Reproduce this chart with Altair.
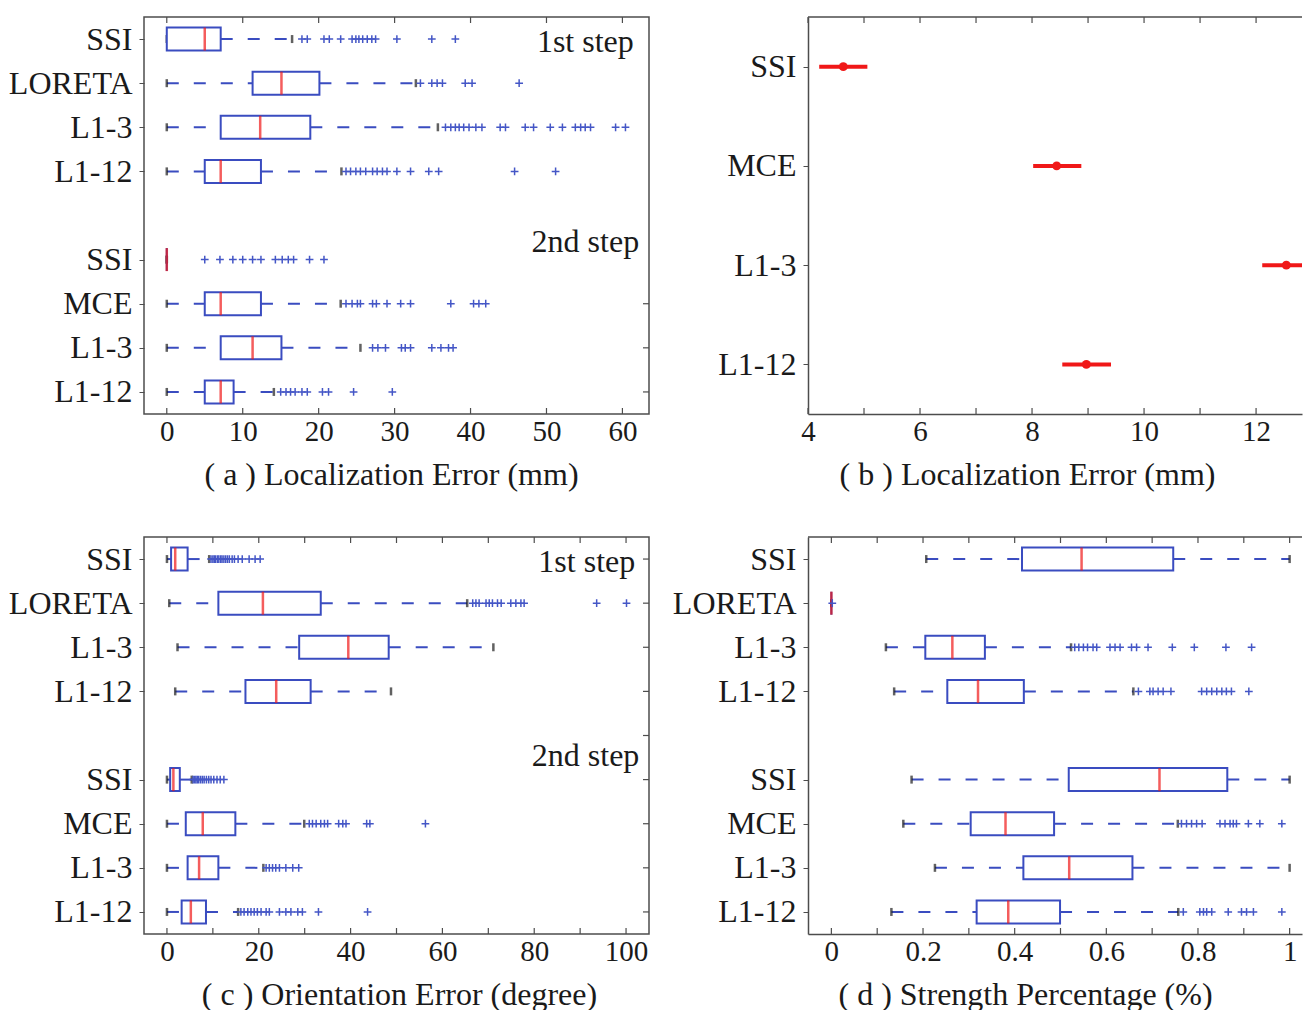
import json
import pandas as pd
import altair as alt

SERIF = "Liberation Serif"
BLUE = "#3a4cc0"
BLUE_PT = "#4456c6"
RED = "#f01818"
CAP = "#1e1e1e"
AXC = "#4d4d4d"
TXT = "#1a1a1a"

# ---------------- shared row layout for box panels ----------------
ROWS = [1, 2, 3, 4, 6, 7, 8, 9]
ROW_LABELS_AC = ["SSI", "LORETA", "L1-3", "L1-12", "SSI", "MCE", "L1-3", "L1-12"]
ROW_LABELS_D = ["SSI", "LORETA", "L1-3", "L1-12", "SSI", "MCE", "L1-3", "L1-12"]

# ---------------- (a) Localization Error (mm) ----------------
A_LO = [0, 0, 0, 0, 0, 0, 0, 0]
A_Q1 = [0, 11.3, 7.1, 5.0, 0, 5.0, 7.1, 5.0]
A_MED = [5.0, 15.1, 12.3, 7.1, 0, 7.1, 11.3, 7.1]
A_Q3 = [7.1, 20.1, 18.9, 12.4, 0, 12.4, 15.1, 8.8]
A_HI = [16.5, 32.8, 35.7, 23.0, 0, 22.9, 25.5, 14.1]
A_OUT = [
    [17.8, 18.5, 20.7, 21.4, 22.9, 24.4, 24.9, 25.3, 25.8, 26.4, 27.0, 27.5, 30.3, 34.9, 38.0],
    [33.4, 34.9, 35.6, 36.3, 39.3, 40.2, 46.4],
    [36.7, 37.4, 38.0, 38.5, 39.1, 39.8, 40.7, 41.5, 43.9, 44.6, 47.2, 48.3, 50.5, 52.1,
     53.8, 54.5, 55.1, 55.8, 59.1, 60.4],
    [23.6, 24.2, 24.9, 25.5, 26.2, 27.1, 27.7, 28.4, 29.0, 30.3, 32.1, 34.5, 35.8, 45.8, 51.2],
    [5.0, 7.0, 8.7, 10.0, 11.3, 12.4, 14.3, 15.2, 16.0, 16.7, 18.8, 20.7],
    [23.6, 24.4, 25.1, 25.5, 27.1, 27.6, 29.0, 30.8, 32.1, 37.4, 40.4, 41.1, 42.0],
    [27.1, 27.8, 28.8, 30.9, 31.4, 32.1, 34.9, 36.1, 37.1, 37.7],
    [15.0, 15.7, 16.3, 16.9, 17.8, 18.5, 20.5, 21.3, 24.6, 29.7],
]
A_DOMAIN = [-3, 63.5]
A_MAJOR = [0, 10, 20, 30, 40, 50, 60]
A_MINOR = [0, 10, 20, 30, 40, 50, 60]
A_TEXT = ["1st step", "2nd step"]
A_TEXT_X = [61.5, 62.2]
A_TEXT_Y = [1.30, 5.83]
A_RIGHT_TICKS = [7, 8, 9]

# ---------------- (b) mean localization error with CI ----------------
B_ROWS = [1, 2, 3, 4]
B_LABELS = ["SSI", "MCE", "L1-3", "L1-12"]
B_MEAN = [4.63, 8.44, 12.54, 8.97]
B_LO = [4.20, 8.02, 12.11, 8.54]
B_HI = [5.06, 8.88, 12.97, 9.41]
B_DOMAIN = [4, 12.82]
B_MAJOR = [4, 6, 8, 10, 12]
B_MINOR = [4, 5, 6, 7, 8, 9, 10, 11, 12]

# ---------------- (c) Orientation Error (degree) ----------------
C_LO = [0, 0.5, 2.3, 1.8, 0, 0, 0, 0]
C_Q1 = [0.9, 11.2, 28.8, 17.1, 0.7, 4.1, 4.5, 3.2]
C_MED = [1.8, 20.9, 39.5, 23.8, 1.4, 7.8, 7.0, 5.2]
C_Q3 = [4.5, 33.5, 48.3, 31.3, 2.8, 14.9, 11.2, 8.5]
C_HI = [9.2, 65.4, 71.1, 48.8, 5.4, 29.9, 21.0, 15.5]
C_OUT = [
    [9.6, 10.0, 10.3, 10.6, 11.0, 11.3, 11.7, 12.0, 12.4, 12.8, 13.2, 13.6, 14.2, 14.7,
     15.5, 16.4, 17.9, 19.2, 20.3],
    [66.6, 67.3, 68.0, 69.5, 70.2, 70.9, 72.0, 72.8, 74.9, 76.0, 77.1, 77.8, 93.6, 100.1],
    [],
    [],
    [5.7, 6.0, 6.3, 6.6, 6.9, 7.3, 7.7, 8.1, 8.6, 9.1, 9.6, 10.2, 10.9, 11.6, 12.4],
    [31.0, 31.7, 32.5, 33.5, 34.3, 35.0, 37.4, 38.3, 39.0, 43.5, 44.2, 56.3],
    [21.6, 22.3, 23.0, 23.7, 24.5, 25.9, 27.4, 28.7],
    [16.1, 16.8, 17.6, 18.3, 19.0, 19.7, 20.5, 21.6, 22.3, 24.5, 25.9, 27.0, 28.5, 29.5,
     33.0, 43.7],
]
C_DOMAIN = [-5, 105]
C_MAJOR = [0, 20, 40, 60, 80, 100]
C_MINOR = [0, 10, 20, 30, 40, 50, 60, 70, 80, 90, 100]
C_TEXT = ["1st step", "2nd step"]
C_TEXT_X = [102.0, 102.9]
C_TEXT_Y = [1.29, 5.70]
C_RIGHT_TICKS = [1, 2, 3, 4, 5, 6, 7, 8, 9]

# ---------------- (d) Strength Percentage (%) ----------------
D_LO = [0.207, 0, 0.119, 0.137, 0.175, 0.157, 0.226, 0.131]
D_Q1 = [0.416, 0, 0.205, 0.253, 0.518, 0.304, 0.419, 0.317]
D_MED = [0.546, 0, 0.264, 0.320, 0.716, 0.380, 0.519, 0.386]
D_Q3 = [0.746, 0, 0.335, 0.420, 0.864, 0.486, 0.657, 0.499]
D_HI = [1.0, 0, 0.523, 0.659, 1.0, 0.756, 1.0, 0.757]
D_OUT = [
    [],
    [0.002],
    [0.531, 0.540, 0.550, 0.559, 0.571, 0.579, 0.608, 0.619, 0.630, 0.655, 0.666, 0.691,
     0.744, 0.792, 0.861, 0.917],
    [0.670, 0.695, 0.702, 0.713, 0.724, 0.741, 0.808, 0.819, 0.830, 0.841, 0.852, 0.862,
     0.873, 0.911],
    [],
    [0.764, 0.775, 0.786, 0.797, 0.809, 0.848, 0.859, 0.870, 0.877, 0.884, 0.910, 0.935, 0.983],
    [],
    [0.768, 0.804, 0.812, 0.819, 0.830, 0.866, 0.895, 0.906, 0.921, 0.983],
]
D_DOMAIN = [-0.051, 1.027]
D_MAJOR = [0, 0.2, 0.4, 0.6, 0.8, 1.0]
D_MINOR = [0, 0.1, 0.2, 0.3, 0.4, 0.5, 0.6, 0.7, 0.8, 0.9, 1.0]

TITLES = ["( a ) Localization Error (mm)", "( b ) Localization Error (mm)",
          "( c ) Orientation Error (degree)", "( d ) Strength Percentage (%)"]

W_LEFT = 505
W_RIGHT = 494
H = 397
TICK = 6
PLUS = "M-1,0L1,0M0,-1L0,1"


def label_expr(rows, labels):
    arr = [""] * (max(rows) + 1)
    for r, l in zip(rows, labels):
        arr[r] = l
    return json.dumps(arr) + "[datum.value]"


def x_axis(major, fmt, title, title_x, domain):
    return alt.Axis(values=major, format=fmt, ticks=False, domain=domain, domainColor=AXC,
                    domainWidth=1.5, grid=False, labelFont=SERIF, labelFontSize=29,
                    labelColor=TXT, labelPadding=3, labelFlush=False, labelOverlap=False,
                    title=title, titleFont=SERIF, titleFontSize=32, titleFontWeight="normal",
                    titleColor=TXT, titleX=title_x, titleY=60, titleBaseline="middle",
                    titleAlign="center")


def y_axis(rows, labels, domain):
    return alt.Axis(values=rows, labelExpr=label_expr(rows, labels), ticks=True, tickSize=5,
                    tickColor=AXC, domain=domain, domainColor=AXC, domainWidth=1.5, grid=False,
                    labelFont=SERIF, labelFontSize=32, labelColor=TXT, labelPadding=7,
                    title=None)


def frame_ticks(minor, xs, w, right_rows, ys):
    layers = []
    tdf = pd.DataFrame({"v": minor})
    layers.append(alt.Chart(tdf).mark_rule(color=AXC, strokeWidth=1.2).encode(
        x=alt.X("v:Q", scale=xs), y=alt.value(0), y2=alt.value(TICK)))
    layers.append(alt.Chart(tdf).mark_rule(color=AXC, strokeWidth=1.2).encode(
        x=alt.X("v:Q", scale=xs), y=alt.value(H - TICK), y2=alt.value(H)))
    if right_rows:
        rdf = pd.DataFrame({"r": right_rows})
        layers.append(alt.Chart(rdf).mark_rule(color=AXC, strokeWidth=1.2).encode(
            y=alt.Y("r:Q", scale=ys), x=alt.value(w - TICK), x2=alt.value(w)))
    return layers


def box_panel(lo, q1, med, q3, hi, outs, labels, xdom, major, minor, fmt, title, title_x,
              texts, tx, ty, right_rows, width, open_right):
    stats = pd.DataFrame({"row": ROWS, "lo": lo, "q1": q1, "med": med, "q3": q3, "hi": hi})
    orow, oval = [], []
    for r, vals in zip(ROWS, outs):
        for v in vals:
            orow.append(r)
            oval.append(v)
    odf = pd.DataFrame({"row": orow, "v": oval})

    xs = alt.Scale(domain=xdom, nice=False, zero=False, padding=0)
    ys = alt.Scale(domain=[0.5, 9.5], reverse=True, nice=False, zero=False, padding=0)
    xa = x_axis(major, fmt, title, title_x, open_right)
    ya = y_axis(ROWS, labels, open_right)

    def X(f):
        return alt.X(f, scale=xs, axis=xa)

    def Y(f):
        return alt.Y(f, scale=ys, axis=ya)

    base = alt.Chart(stats)
    dash = [12, 15]
    layers = [
        base.mark_rule(color=BLUE, strokeWidth=2, strokeDash=dash).encode(
            x=X("lo:Q"), x2="q1:Q", y=Y("row:Q")),
        base.mark_rule(color=BLUE, strokeWidth=2, strokeDash=dash).encode(
            x=X("q3:Q"), x2="hi:Q", y=Y("row:Q")),
        base.mark_tick(orient="vertical", size=8, thickness=2.5, color=CAP).encode(
            x=X("lo:Q"), y=Y("row:Q")),
        base.mark_tick(orient="vertical", size=8, thickness=2.5, color=CAP).encode(
            x=X("hi:Q"), y=Y("row:Q")),
        base.mark_bar(orient="horizontal", size=23, fill="white", stroke=BLUE,
                      strokeWidth=2).encode(x=X("q1:Q"), x2="q3:Q", y=Y("row:Q")),
        base.mark_tick(orient="vertical", size=23, thickness=2.5, color=RED).encode(
            x=X("med:Q"), y=Y("row:Q")),
        alt.Chart(odf).mark_point(shape=PLUS, size=60, filled=False, color=BLUE_PT,
                                  strokeWidth=1.5, opacity=1).encode(
            x=X("v:Q"), y=Y("row:Q")),
    ]
    if texts:
        tdf = pd.DataFrame({"t": texts, "x": tx, "y": ty})
        layers.append(alt.Chart(tdf).mark_text(align="right", baseline="alphabetic",
                                               font=SERIF, fontSize=32, color=TXT).encode(
            x=X("x:Q"), y=Y("y:Q"), text="t:N"))
    layers += frame_ticks(minor, xs, width, right_rows, ys)
    if open_right:
        layers.append(alt.Chart(pd.DataFrame({"k": [0]})).mark_rule(
            color=AXC, strokeWidth=1.5).encode(x=alt.value(0), x2=alt.value(width),
                                               y=alt.value(0)))
        view = alt.ViewBackground(stroke="transparent")
    else:
        view = alt.ViewBackground(stroke=AXC, strokeWidth=1.5)
    return alt.layer(*layers).properties(width=width, height=H, view=view)


def ci_panel():
    df = pd.DataFrame({"row": B_ROWS, "m": B_MEAN, "lo": B_LO, "hi": B_HI})
    xs = alt.Scale(domain=B_DOMAIN, nice=False, zero=False, padding=0)
    ys = alt.Scale(domain=[0.5, 4.5], reverse=True, nice=False, zero=False, padding=0)
    xa = x_axis(B_MAJOR, "d", TITLES[1], 219, True)
    ya = y_axis(B_ROWS, B_LABELS, True)
    base = alt.Chart(df)
    layers = [
        base.mark_rule(color=RED, strokeWidth=4, clip=True).encode(
            x=alt.X("lo:Q", scale=xs, axis=xa), x2="hi:Q",
            y=alt.Y("row:Q", scale=ys, axis=ya)),
        base.mark_circle(color=RED, size=80, opacity=1, clip=True).encode(
            x=alt.X("m:Q", scale=xs, axis=xa), y=alt.Y("row:Q", scale=ys, axis=ya)),
    ]
    layers += frame_ticks(B_MINOR, xs, W_RIGHT, [], ys)
    layers.append(alt.Chart(pd.DataFrame({"k": [0]})).mark_rule(
        color=AXC, strokeWidth=1.5).encode(x=alt.value(0), x2=alt.value(W_RIGHT),
                                           y=alt.value(0)))
    return alt.layer(*layers).properties(width=W_RIGHT, height=H,
                                         view=alt.ViewBackground(stroke="transparent"))


pa = box_panel(A_LO, A_Q1, A_MED, A_Q3, A_HI, A_OUT, ROW_LABELS_AC, A_DOMAIN, A_MAJOR,
               A_MINOR, "d", TITLES[0], 247, A_TEXT, A_TEXT_X, A_TEXT_Y, A_RIGHT_TICKS,
               W_LEFT, False)
pb = ci_panel()
pc = box_panel(C_LO, C_Q1, C_MED, C_Q3, C_HI, C_OUT, ROW_LABELS_AC, C_DOMAIN, C_MAJOR,
               C_MINOR, "d", TITLES[2], 255, C_TEXT, C_TEXT_X, C_TEXT_Y, C_RIGHT_TICKS,
               W_LEFT, False)
pd_ = box_panel(D_LO, D_Q1, D_MED, D_Q3, D_HI, D_OUT, ROW_LABELS_D, D_DOMAIN, D_MAJOR,
                D_MINOR, "~g", TITLES[3], 217, [], [], [], [], W_RIGHT, True)

chart = alt.concat(pa, pb, pc, pd_, columns=2, spacing={"row": 123, "column": 159},
                   bounds="flush").properties(
    autosize=alt.AutoSizeParams(type="pad"),
    padding={"left": 7, "top": 15, "right": 0, "bottom": 0},
    background="white",
).configure_view(stroke=AXC)

chart.save("out.html", embed_options={"renderer": "svg", "actions": False})
